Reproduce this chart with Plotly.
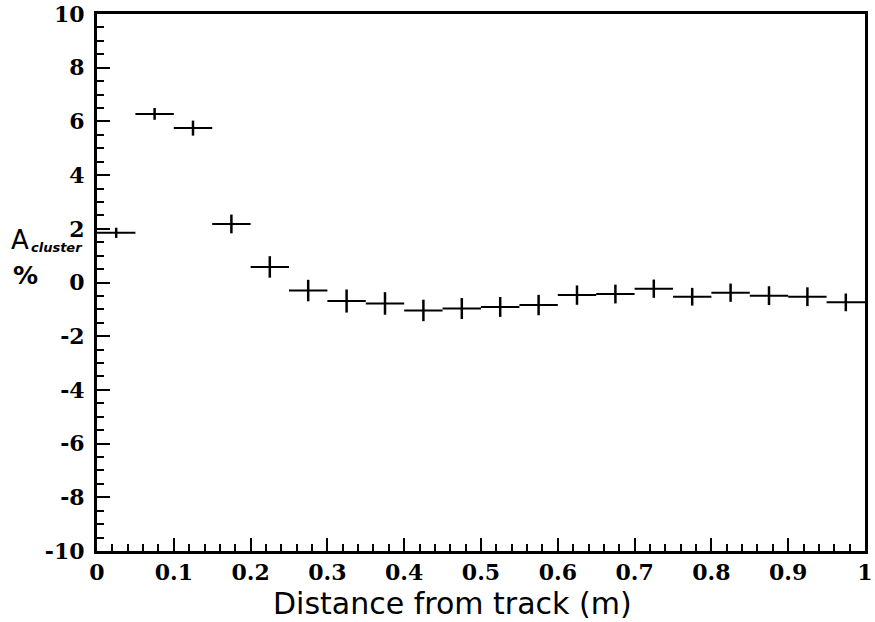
import plotly.graph_objects as go

x_centers = [0.025, 0.075, 0.125, 0.175, 0.225, 0.275, 0.325, 0.375, 0.425, 0.475,
             0.525, 0.575, 0.625, 0.675, 0.725, 0.775, 0.825, 0.875, 0.925, 0.975]
x_halfwidth = [0.025] * 20
asym = [1.85, 6.28, 5.75, 2.18, 0.58, -0.30, -0.69, -0.78, -1.04, -0.97,
        -0.91, -0.84, -0.47, -0.43, -0.23, -0.53, -0.38, -0.49, -0.53, -0.74]
asym_err = [0.19, 0.22, 0.28, 0.35, 0.40, 0.40, 0.43, 0.42, 0.40, 0.39,
            0.37, 0.38, 0.36, 0.35, 0.34, 0.33, 0.34, 0.35, 0.35, 0.33]

x_ticks = [0, 0.1, 0.2, 0.3, 0.4, 0.5, 0.6, 0.7, 0.8, 0.9, 1]
x_ticklabels = ["0", "0.1", "0.2", "0.3", "0.4", "0.5", "0.6", "0.7", "0.8", "0.9", "1"]
y_ticks = [-10, -8, -6, -4, -2, 0, 2, 4, 6, 8, 10]
y_ticklabels = ["-10", "-8", "-6", "-4", "-2", "0", "2", "4", "6", "8", "10"]

fig = go.Figure()
fig.add_trace(go.Scatter(
    x=x_centers, y=asym, mode="markers",
    marker=dict(size=1, color="black", opacity=0),
    error_x=dict(type="data", array=x_halfwidth, color="black", thickness=2, width=0),
    error_y=dict(type="data", array=asym_err, color="black", thickness=2.5, width=0),
    showlegend=False, hoverinfo="skip",
))

tickfont = dict(family="DejaVu Serif", size=22, color="black", weight="bold")

fig.update_layout(
    width=875, height=622,
    margin=dict(l=97, r=10, t=14, b=71),
    paper_bgcolor="white", plot_bgcolor="white",
    xaxis=dict(
        range=[0, 1], tickmode="array", tickvals=x_ticks, ticktext=x_ticklabels,
        ticks="inside", ticklen=13, tickwidth=2, tickcolor="black",
        minor=dict(dtick=0.02, ticks="inside", ticklen=7, tickwidth=2, tickcolor="black"),
        showline=True, linewidth=3, linecolor="black", mirror=True,
        showgrid=False, zeroline=False, tickfont=tickfont, ticklabelstandoff=0,
        automargin=False,
    ),
    yaxis=dict(
        range=[-10, 10], tickmode="array", tickvals=y_ticks, ticktext=y_ticklabels,
        ticks="inside", ticklen=13, tickwidth=2, tickcolor="black",
        minor=dict(dtick=0.5, ticks="inside", ticklen=7, tickwidth=2, tickcolor="black"),
        showline=True, linewidth=3, linecolor="black", mirror=True,
        showgrid=False, zeroline=False, tickfont=tickfont, ticklabelstandoff=5,
        automargin=False,
    ),
)

# x-axis title
fig.add_annotation(
    xref="paper", yref="paper", x=(452 - 97) / 768, y=-(604 - 551.5) / 537,
    xanchor="center", yanchor="middle", showarrow=False,
    text="Distance from track (m)",
    font=dict(family="DejaVu Sans", size=30, color="black"),
)
# y-axis title: "A" with subscript "cluster", and "%" below
fig.add_annotation(
    xref="paper", yref="paper", x=-(97 - 9) / 768, y=(551.5 - 241) / 537,
    xanchor="left", yanchor="middle", showarrow=False,
    text="A",
    font=dict(family="DejaVu Sans", size=26, color="black"),
)
fig.add_annotation(
    xref="paper", yref="paper", x=-(97 - 29) / 768, y=(551.5 - 248) / 537,
    xanchor="left", yanchor="middle", showarrow=False,
    text="<b><i>cluster</i></b>",
    font=dict(family="DejaVu Sans", size=13, color="black"),
)
fig.add_annotation(
    xref="paper", yref="paper", x=-(97 - 11) / 768, y=(551.5 - 276) / 537,
    xanchor="left", yanchor="middle", showarrow=False,
    text="%",
    font=dict(family="DejaVu Sans", size=25, color="black", weight="bold"),
)

fig.write_html("out.html")
